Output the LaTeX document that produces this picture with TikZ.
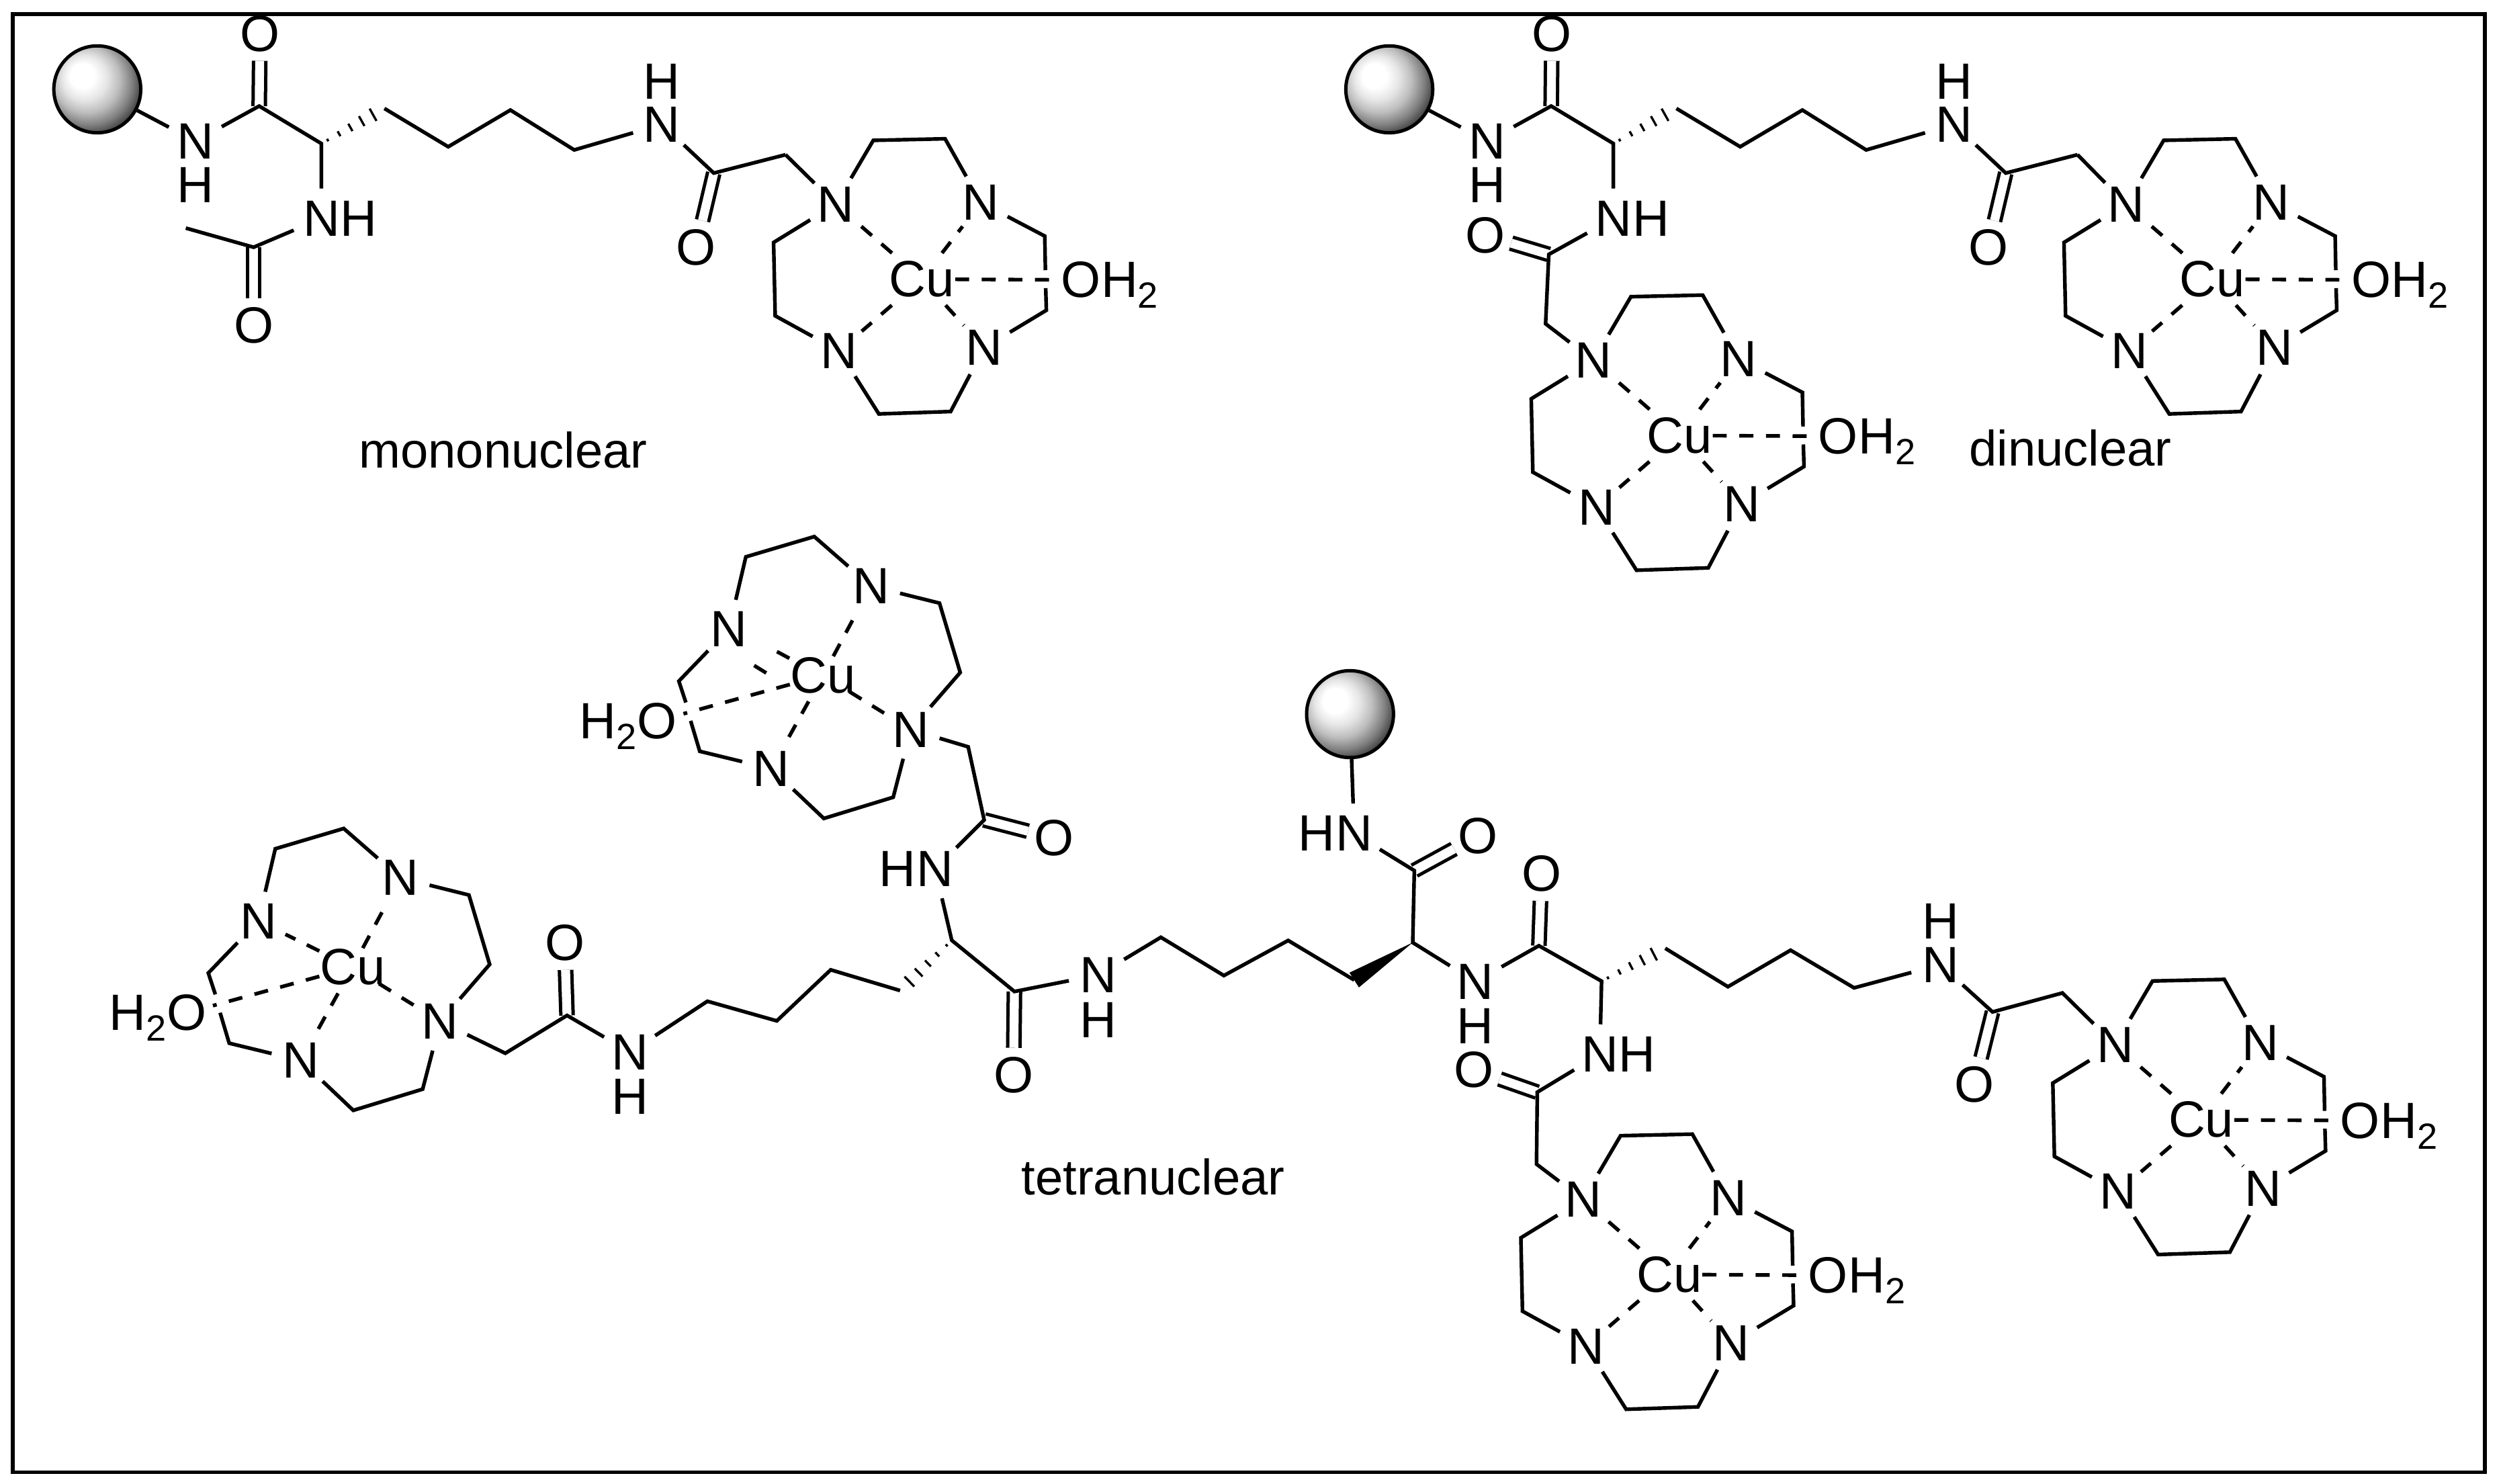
\documentclass[tikz,border=0pt]{standalone}
\usepackage{fontspec}
\setmainfont{Liberation Sans}
\usetikzlibrary{calc}

\newcommand{\atomfont}{\fontsize{18.2}{21}\selectfont}
\newcommand{\subtwo}{\raisebox{-3.8pt}{\fontsize{13}{13}\selectfont 2}}

\newcommand{\hashbond}[2]{%
    \foreach \t/\w in {0.1/0.5, 0.28/1, 0.46/1.5, 0.64/2, 0.82/2.5}{
        \draw[line width = 0.8pt] ($(#1)!\t!(#2)!\w pt!90:(#2)$) -- ($(#1)!\t!(#2)!\w pt!-90:(#2)$);
    }
}

\pgfdeclareradialshading{beadball}{\pgfpoint{-10bp}{9bp}}{%
    color(0bp)=(white); color(7bp)=(white); color(13bp)=(white!90!black);
    color(19bp)=(white!74!black); color(25bp)=(white!50!black);
    color(31bp)=(white!20!black); color(37bp)=(black); color(50bp)=(black)}

\tikzset{
    atom/.style = {shape = circle, inner sep = 0pt, minimum size = 0.74cm, font = \atomfont},
    metal/.style = {atom, shape = rectangle, minimum width = 0.76cm, minimum height = 0.64cm},
    oxy/.style = {atom, minimum size = 0.64cm},
    tag/.style = {inner sep = 0pt, font = \atomfont},
    caption/.style = {inner sep = 0pt, font = \fontsize{17.8}{20}\selectfont},
    bond/.style = {line width = 1.3pt},
    dbond/.style = {double, double distance = 3.2pt, line width = 1.2pt},
    coord/.style = {line width = 1.3pt, dash pattern = on 5pt off 4.5pt},
    bead/.style = {shape = circle, draw, line width = 1.2pt, inner sep = 0pt, minimum size = 1.09cm,
        shading = beadball},
    % ring with the water on the right
    curight/.pic = {
        \node[metal] (-cu) at (0,0) {Cu};
        \node[atom] (-n1) at (-54,-47) {N};
        \node[atom] (-n2) at (37,-48) {N};
        \node[atom] (-n3) at (-52,45) {N};
        \node[atom] (-n4) at (39,43) {N};
        \node[oxy] (-o) at (99.5,0.5) {O};
        \node[tag, anchor = base west, xshift = 7.1pt] (-h) at (-o.base) {H\subtwo};
        \path coordinate (-a) at (-30.5,-87) coordinate (-b) at (14.5,-88)
            coordinate (-c) at (77,-27) coordinate (-cg) at (77.4,-5.6)
            coordinate (-dg) at (77.6,5.6) coordinate (-d) at (78,19.5)
            coordinate (-e) at (18,83) coordinate (-f) at (-27,84.5)
            coordinate (-g) at (-92,23) coordinate (-k) at (-93,-23);
        \draw[bond] (-n1) -- (-a) -- (-b) -- (-n2);
        \draw[bond] (-n2) -- (-c) -- (-cg);
        \draw[bond] (-dg) -- (-d) -- (-n4);
        \draw[bond] (-n4) -- (-e) -- (-f) -- (-n3);
        \draw[bond] (-n3) -- (-g) -- (-k) -- (-n1);
        \foreach \i in {n1,n2,n3,n4,o}
            \draw[coord] (-cu) -- (-\i);
    },
    % same ring turned round, water on the left
    culeft/.pic = {
        \node[metal] (-cu) at (0,0) {Cu};
        \node[atom] (-n1) at (55,34) {N};
        \node[atom] (-n2) at (-32.4,58.5) {N};
        \node[atom] (-n3) at (30,-56) {N};
        \node[atom] (-n4) at (-59,-29) {N};
        \node[oxy] (-o) at (-104,28.6) {O};
        \node[tag, anchor = base east, xshift = -7.1pt] (-h) at (-o.base) {H\subtwo};
        \path coordinate (-a) at (44,76.4) coordinate (-b) at (0.5,89.7)
            coordinate (-c) at (-77.3,47.6) coordinate (-cg) at (-83,28.5)
            coordinate (-dg) at (-86,17) coordinate (-d) at (-90.4,3.6)
            coordinate (-e) at (-48.4,-74.3) coordinate (-f) at (-5.5,-87)
            coordinate (-g) at (73,-45.3) coordinate (-k) at (86,-1.8);
        \draw[bond] (-n1) -- (-a) -- (-b) -- (-n2);
        \draw[bond] (-n2) -- (-c) -- (-cg);
        \draw[bond] (-dg) -- (-d) -- (-n4);
        \draw[bond] (-n4) -- (-e) -- (-f) -- (-n3);
        \draw[bond] (-n3) -- (-g) -- (-k) -- (-n1);
        \foreach \i in {n2,o}
            \draw[coord] (-cu) -- (-\i);
        \foreach \i in {n1,n3}
            \draw[coord, shorten <= -2.8pt] (-cu) -- (-\i);
    },
    % bead and lysine as far as the CH2 on the ring
    lysarm/.pic = {
        \node[bead] (-bead) at (61,56) {};
        \node[atom] (-n1) at (122.5,88.5) {N};
        \node[tag] (-h1) at (122.5,116) {H};
        \node[oxy] (-o1) at (163,21) {O};
        \node[atom] (-n2) at (415,78) {N};
        \node[tag] (-h2) at (415,51) {H};
        \node[oxy] (-o2) at (436.5,155) {O};
        \node[atom] (-n3) at (201.5,137) {N};
        \node[tag, anchor = base west, xshift = 6.6pt] (-h3) at (-n3.base) {H};
        \path coordinate (-c1) at (162.5,66.5) coordinate (-ca) at (201.5,90)
            coordinate (-c2) at (241,68) coordinate (-c3) at (281,92)
            coordinate (-c4) at (320,69) coordinate (-c5) at (360,94)
            coordinate (-c6) at (447.5,108.5) coordinate (-ch2) at (492.5,97);
        \draw[dbond] (-o1) -- (-c1);
        \draw[dbond] (-o2) -- (-c6);
        \draw[bond] (-bead) -- (-n1) -- (-c1) -- (-ca) -- (-n3);
        \hashbond{-ca}{-c2}
        \draw[bond] (-c2) -- (-c3) -- (-c4) -- (-c5) -- (-n2) -- (-c6) -- (-ch2);
    }
}

\begin{document}
\begin{tikzpicture}[x = 0.02cm, y = -0.02cm]
    \useasboundingbox (0,0) rectangle (1568,930);
    \draw[line width = 1.4pt] (8,9) rectangle (1558,923);

    % mononuclear
    \pic (ma) at (0,0) {lysarm};
    \pic (mu) at (578,175) {curight};
    \node[oxy] (mo) at (159,204) {O};
    \path coordinate (mc) at (159,155) coordinate (mme) at (116.5,143);
    \draw[dbond] (mo) -- (mc);
    \draw[bond] (ma-n3) -- (mc) -- (mme);
    \draw[bond] (ma-ch2) -- (mu-n1);
    \node[caption] (mlabel) at (315.5,282) {mononuclear};

    % dinuclear
    \pic (da) at (810,0) {lysarm};
    \pic (du) at (1387,175) {curight};
    \pic (dv) at (1053,273) {curight};
    \node[oxy] (do) at (931,147.5) {O};
    \path coordinate (dc) at (971,159.5) coordinate (dch) at (969,203);
    \draw[dbond] (do) -- (dc);
    \draw[bond] (da-n3) -- (dc) -- (dch) -- (dv-n1);
    \draw[bond] (da-ch2) -- (du-n1);
    \node[caption] (dlabel) at (1298,281) {dinuclear};

    % tetranuclear, from the bead to the right
    \node[bead] (tbead) at (846.4,447.7) {};
    \node[atom] (tn1) at (849,522.6) {N};
    \node[tag, anchor = base east, xshift = -6.6pt] (th1) at (tn1.base) {H};
    \node[oxy] (to1) at (926.6,524) {O};
    \node[atom] (tn2) at (925,615.4) {N};
    \node[tag] (th2) at (925,643.4) {H};
    \node[oxy] (to2) at (966.4,547.7) {O};
    \node[atom] (tn3) at (1216.5,604.8) {N};
    \node[tag] (th3) at (1216.5,577.4) {H};
    \node[oxy] (to3) at (1237.9,679.9) {O};
    \node[atom] (tn4) at (1003,661) {N};
    \node[tag, anchor = base west, xshift = 6.6pt] (th4) at (tn4.base) {H};
    \node[oxy] (to4) at (924,670.8) {O};
    \pic (tu) at (1380,702) {curight};
    \pic (tv) at (1046.5,799) {curight};
    \path coordinate (tc1) at (886.7,545.8) coordinate (tca1) at (885.7,590.9)
        coordinate (tc2) at (964.8,592.9) coordinate (tca2) at (1004.1,615.1)
        coordinate (tc3) at (1044,594.5) coordinate (tc4) at (1083.3,618.6)
        coordinate (tc5) at (1122.6,595.7) coordinate (tc6) at (1162.4,619.3)
        coordinate (tc7) at (1249.2,634.4) coordinate (tc8) at (1293,622.5)
        coordinate (tc9) at (963.8,684.7) coordinate (tc10) at (963.3,729.8);
    \draw[dbond] (to1) -- (tc1);
    \draw[dbond] (to2) -- (tc2);
    \draw[dbond] (to3) -- (tc7);
    \draw[dbond] (to4) -- (tc9);
    \draw[bond] (tbead) -- (tn1) -- (tc1) -- (tca1) -- (tn2) -- (tc2) -- (tca2) -- (tn4) -- (tc9) -- (tc10) -- (tv-n1);
    \hashbond{tca2}{tc3}
    \draw[bond] (tc3) -- (tc4) -- (tc5) -- (tc6) -- (tn3) -- (tc7) -- (tc8) -- (tu-n1);

    % tetranuclear, from the bead to the left
    \node[atom] (tn5) at (688.6,611.2) {N};
    \node[tag] (th5) at (688.6,639.5) {H};
    \node[oxy] (to5) at (635.4,674) {O};
    \node[atom] (tn6) at (586.3,544.8) {N};
    \node[tag, anchor = base east, xshift = -6.6pt] (th6) at (tn6.base) {H};
    \node[oxy] (to6) at (661,525.4) {O};
    \node[atom] (tn7) at (395,659.6) {N};
    \node[tag] (th7) at (395,687.4) {H};
    \node[oxy] (to7) at (354,591) {O};
    \pic (tw) at (516,423.4) {culeft};
    \pic (tx) at (221,606.4) {culeft};
    \draw[coord] (tx-cu) -- (tx-n4);
    \path coordinate (twa) at (487.1,408.5) coordinate (twb) at (494.9,412.7)
        coordinate (twc) at (472.8,417.2) coordinate (twd) at (480.4,421.9);
    \draw[bond] (twa) -- (twb);
    \draw[bond] (twc) -- (twd);
    \path coordinate (tl1) at (849,614.4) coordinate (tl2) at (807.6,589.6)
        coordinate (tl3) at (767.3,611.6) coordinate (tl4) at (727.8,587.6)
        coordinate (tl5) at (636,621.6) coordinate (tca3) at (596.7,589.5)
        coordinate (tl6) at (617,514) coordinate (tl7) at (607,468.2)
        coordinate (tl8) at (564.3,621) coordinate (tl9) at (520.8,608)
        coordinate (tl10) at (487,640) coordinate (tl11) at (443.5,627.7)
        coordinate (tl12) at (355.5,636.6) coordinate (tl13) at (316.8,660.3);
    \fill (tca1) -- ($(tl1)!0.11cm!90:(tca1)$) -- ($(tl1)!0.11cm!-90:(tca1)$) -- cycle;
    \draw[dbond] (to5) -- (tl5);
    \draw[dbond] (to6) -- (tl6);
    \draw[dbond] (to7) -- (tl12);
    \draw[bond] (tl1) -- (tl2) -- (tl3) -- (tl4) -- (tn5) -- (tl5) -- (tca3) -- (tn6) -- (tl6) -- (tl7) -- (tw-n1);
    \hashbond{tca3}{tl8}
    \draw[bond] (tl8) -- (tl9) -- (tl10) -- (tl11) -- (tn7) -- (tl12) -- (tl13) -- (tx-n1);
    \node[caption] (tlabel) at (723,738) {tetranuclear};
\end{tikzpicture}
\end{document}
